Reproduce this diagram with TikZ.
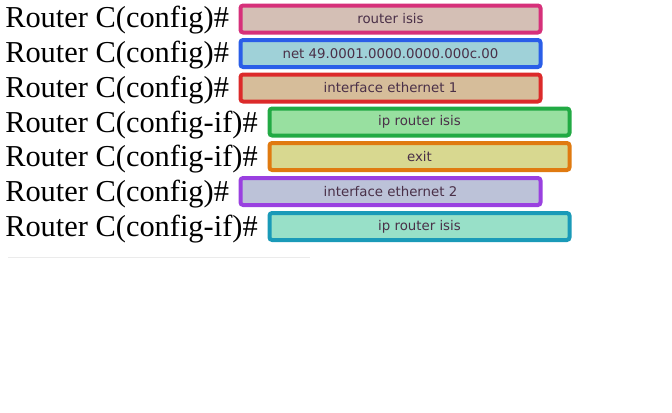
\documentclass[tikz,border=0pt]{standalone}
\usepackage{fontspec}
\setmainfont{Liberation Serif}
\newfontfamily\boxfont{DejaVu Sans}
\begin{document}
\begin{tikzpicture}[x=0.75pt,y=-0.75pt,
  cmd/.style={anchor=base west,font=\fontsize{22.8}{23}\selectfont,inner sep=0pt},
  bx/.style={draw,line width=3pt,rounded corners=2pt,minimum width=300*0.75pt,minimum height=27*0.75pt,anchor=north west,inner sep=0pt,font=\boxfont\fontsize{10}{10}\selectfont,text=tc}]
\useasboundingbox (0,0) rectangle (672,412);
\fill[white] (0,0) rectangle (672,412);
\definecolor{tc}{HTML}{4A3048}
\definecolor{c1}{HTML}{D6307A}\definecolor{f1}{HTML}{D4BFB5}
\definecolor{c2}{HTML}{2A5EE8}\definecolor{f2}{HTML}{9FD1D8}
\definecolor{c3}{HTML}{DC2A2A}\definecolor{f3}{HTML}{D6BD9A}
\definecolor{c4}{HTML}{22AA44}\definecolor{f4}{HTML}{98E0A0}
\definecolor{c5}{HTML}{E07A10}\definecolor{f5}{HTML}{D8D890}
\definecolor{c6}{HTML}{9A40E0}\definecolor{f6}{HTML}{BCC2D8}
\definecolor{c7}{HTML}{1A9AB8}\definecolor{f7}{HTML}{98E0C8}
\node[cmd] (l1) at (5,27) {Router C(config)\#};
\node[cmd] (l2) at (5,62) {Router C(config)\#};
\node[cmd] (l3) at (5,97) {Router C(config)\#};
\node[cmd] (l4) at (5,132) {Router C(config-if)\#};
\node[cmd] (l5) at (5,166) {Router C(config-if)\#};
\node[cmd] (l6) at (5,201) {Router C(config)\#};
\node[cmd] (l7) at (5,236) {Router C(config-if)\#};
\node[bx,draw=c1,fill=f1] (b1) at (238.5,3.5) {router isis};
\node[bx,draw=c2,fill=f2] (b2) at (238.5,38) {net 49.0001.0000.0000.000c.00};
\node[bx,draw=c3,fill=f3] (b3) at (238.5,72.5) {interface ethernet 1};
\node[bx,draw=c4,fill=f4] (b4) at (267.5,106.5) {ip router isis};
\node[bx,draw=c5,fill=f5] (b5) at (267.5,141) {exit};
\node[bx,draw=c6,fill=f6] (b6) at (238.5,176) {interface ethernet 2};
\node[bx,draw=c7,fill=f7] (b7) at (267.5,211) {ip router isis};
\draw[black!8] (8,257) -- (310,257);
\end{tikzpicture}
\end{document}
